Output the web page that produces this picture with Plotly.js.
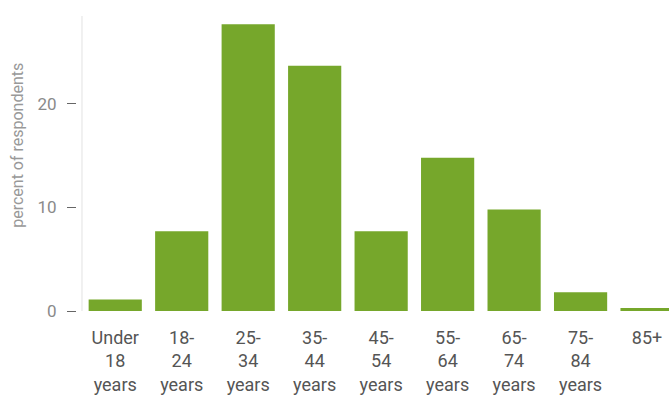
<!DOCTYPE html>
<html>
<head>
<meta charset="utf-8">
<script src="https://cdn.plot.ly/plotly-3.0.1.min.js"></script>
<style>html,body{margin:0;padding:0;background:#fff;}#chart{width:669px;height:399px;}</style>
</head>
<body>
<div id="chart"></div>
<script>
var categories = ["Under<br>18<br>years", "18-<br>24<br>years", "25-<br>34<br>years", "35-<br>44<br>years", "45-<br>54<br>years", "55-<br>64<br>years", "65-<br>74<br>years", "75-<br>84<br>years", "85+"];
var percents = [1.1, 7.7, 27.7, 23.7, 7.7, 14.8, 9.8, 1.8, 0.3];
var yTicks = [0, 10, 20];
var yTitle = "percent of respondents";

var trace = {
  type: "bar",
  x: categories,
  y: percents,
  marker: {color: "#76a72b"},
  hoverinfo: "x+y"
};

var layout = {
  width: 669,
  height: 399,
  margin: {l: 76, r: 0, t: 16, b: 88},
  paper_bgcolor: "#ffffff",
  plot_bgcolor: "#ffffff",
  showlegend: false,
  bargap: 0.2,
  font: {family: "Roboto, sans-serif"},
  xaxis: {
    domain: [0.0101, 1],
    range: [-0.5, 8.33],
    showgrid: false,
    zeroline: false,
    showline: false,
    ticks: "",
    tickfont: {size: 18, color: "#555555"},
    ticklabelstandoff: 14,
    tickangle: 0,
    fixedrange: true
  },
  yaxis: {
    anchor: "free",
    position: 0,
    range: [0, 28.5],
    tickvals: yTicks,
    ticktext: yTicks.map(String),
    showgrid: false,
    zeroline: false,
    showline: false,
    ticks: "outside",
    ticklen: 9,
    tickwidth: 1,
    tickcolor: "#666666",
    tickfont: {size: 17, color: "#8a8a8a"},
    ticklabelstandoff: 7,
    fixedrange: true
  },
  annotations: [{
    text: yTitle,
    xref: "paper", yref: "paper",
    x: -0.098, y: 0.563,
    xanchor: "center", yanchor: "middle",
    textangle: -90,
    showarrow: false,
    font: {size: 16, color: "#999999"}
  }],
  shapes: [{
    type: "line", xref: "paper", yref: "paper",
    x0: 0.0101, x1: 0.0101, y0: 0, y1: 1,
    line: {color: "#e2e2e2", width: 1}
  }]
};

Plotly.newPlot("chart", [trace], layout, {displayModeBar: false, staticPlot: true});
</script>
</body>
</html>
